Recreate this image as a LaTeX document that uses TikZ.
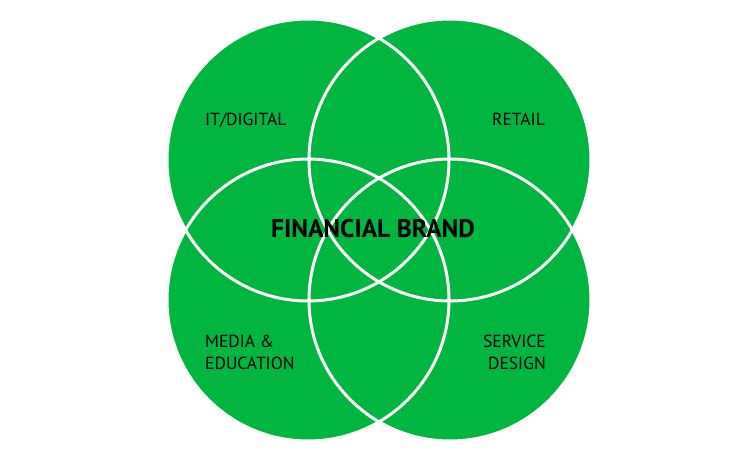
\documentclass[tikz,border=0pt]{standalone}
\usepackage{fontspec}
\setmainfont{PT Sans}
\definecolor{venngreen}{RGB}{0,181,64}

\begin{document}
\begin{tikzpicture}[
    x=1pt, y=-1pt,
    lbl/.style={inner sep=0pt, font=\fontsize{17.5}{22}\selectfont, align=left},
    ring/.style={draw=white, line width=3pt},
]
\useasboundingbox (0,0) rectangle (740,468);
\foreach \cx/\cy in {308/160, 450/160, 308/300, 450/300}
  \fill[venngreen] (\cx,\cy) circle[radius=141pt];
\foreach \cx/\cy in {308/160, 450/160, 308/300, 450/300}
  \draw[ring] (\cx,\cy) circle[radius=141pt];
\node[lbl, anchor=base west] (it) at (205,126) {IT/DIGITAL};
\node[lbl, anchor=base east] (retail) at (545,126) {RETAIL};
\node[lbl, anchor=base west] (media) at (205,369) {MEDIA \&\\EDUCATION};
\node[lbl, anchor=base east, align=right] (service) at (546,369) {SERVICE\\DESIGN};
\node[inner sep=0pt, anchor=base, font=\fontsize{25.5}{30}\selectfont\bfseries] (brand) at (373,238) {FINANCIAL BRAND};
\end{tikzpicture}
\end{document}
